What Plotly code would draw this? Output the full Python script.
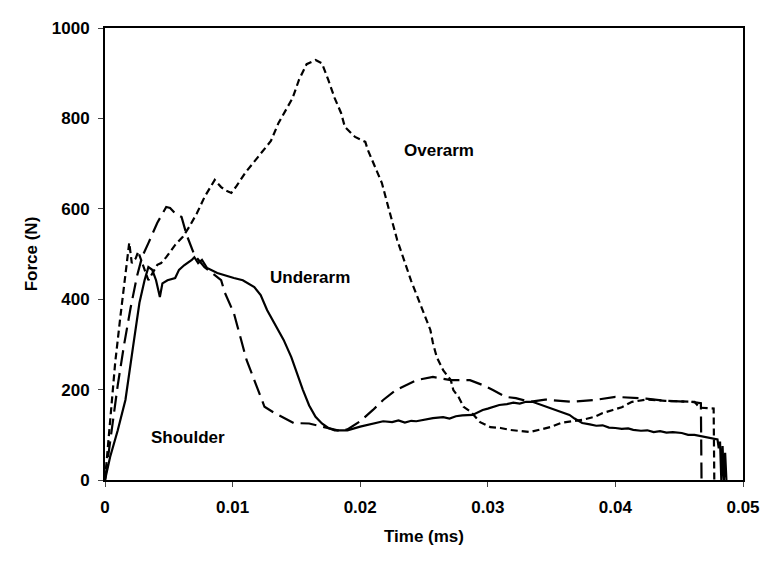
import plotly.graph_objects as go

# ---- data (time in ms, force in N) ----
overarm_t = [0, 0.0004, 0.0008, 0.0012, 0.0016, 0.0019, 0.0021, 0.0024, 0.0026, 0.0031, 0.0034,
             0.0041, 0.0044, 0.0048, 0.0055, 0.0061, 0.0066, 0.0072, 0.0078, 0.0086, 0.0091,
             0.0095, 0.0099, 0.0103, 0.011, 0.012, 0.013, 0.0136, 0.0147, 0.0152, 0.0158,
             0.0165, 0.017, 0.0175, 0.018, 0.0185, 0.0188, 0.0196, 0.0204, 0.0206, 0.0212,
             0.0217, 0.0222, 0.0229, 0.024, 0.0255, 0.0257, 0.026, 0.0265, 0.0271, 0.0273,
             0.0277, 0.0281, 0.0287, 0.0294, 0.0302, 0.031, 0.0317, 0.0333, 0.0341, 0.0349,
             0.0358, 0.0374, 0.0384, 0.039, 0.0398, 0.0405, 0.0413, 0.0425, 0.0439, 0.0452,
             0.0462, 0.0466, 0.0477, 0.04775]
overarm_f = [0, 130, 260, 360, 450, 525, 480, 490, 505, 465, 442,
             476, 480, 493, 520, 538, 560, 590, 626, 664, 648,
             640, 635, 650, 680, 715, 750, 790, 845, 885, 920,
             929, 922, 885, 845, 812, 781, 759, 748, 730, 692,
             657, 604, 531, 440, 332, 303, 272, 243, 221, 199,
             184, 162, 150, 128, 117, 115, 111, 106, 111, 117,
             127, 133, 140, 148, 155, 161, 173, 178, 175, 173,
             173, 160, 158, 0]

underarm_t = [0, 0.0004, 0.001, 0.0016, 0.0022, 0.0027, 0.0031, 0.0034, 0.0037, 0.004, 0.0043,
              0.0045, 0.0049, 0.0055, 0.0058, 0.0062, 0.0068, 0.007, 0.0073, 0.0076, 0.008,
              0.0088, 0.0101, 0.0108, 0.0117, 0.0122, 0.0127, 0.0134, 0.014, 0.0146, 0.015,
              0.0155, 0.016, 0.0165, 0.017, 0.0175, 0.018, 0.019, 0.020, 0.021, 0.0218,
              0.0225, 0.023, 0.0235, 0.024, 0.0244, 0.025, 0.0257, 0.0265, 0.027, 0.0275,
              0.028, 0.0288, 0.0296, 0.030, 0.0305, 0.0309, 0.0315, 0.032, 0.0325, 0.033,
              0.0335, 0.034, 0.0349, 0.0355, 0.036, 0.0364, 0.0368, 0.0374, 0.038, 0.0385,
              0.039, 0.0395, 0.040, 0.0405, 0.041, 0.0414, 0.042, 0.0425, 0.043, 0.0435,
              0.044, 0.0445, 0.0452, 0.0457, 0.0462, 0.0468, 0.0475, 0.048, 0.0481, 0.0482,
              0.0483, 0.0484, 0.0485, 0.0486, 0.0487]
underarm_f = [0, 51, 110, 177, 295, 392, 442, 471, 465, 442, 405,
              435, 442, 447, 465, 475, 487, 493, 480, 487, 469,
              458, 447, 442, 427, 409, 376, 339, 310, 272, 240,
              200, 165, 140, 125, 115, 110, 110, 118, 125, 130,
              128, 132, 127, 131, 130, 134, 137, 139, 136, 141,
              143, 144, 155, 158, 163, 166, 168, 171, 169, 173,
              173, 168, 159, 152, 148, 144, 136, 126, 123, 120,
              121, 116, 115, 113, 114, 111, 109, 110, 106, 108,
              105, 106, 104, 100, 100, 97, 93, 90, 70, 85,
              0, 75, 0, 60, 0]

shoulder_t = [0, 0.0005, 0.001, 0.0015, 0.002, 0.0025, 0.0029, 0.0034, 0.0041, 0.0048, 0.0051,
              0.0055, 0.006, 0.0064, 0.0068, 0.007, 0.0078, 0.0091, 0.0094, 0.0101, 0.0104,
              0.0111, 0.0117, 0.0125, 0.0133, 0.0148, 0.016, 0.017, 0.018, 0.0185, 0.019,
              0.020, 0.021, 0.0218, 0.0228, 0.0244, 0.0257, 0.0271, 0.0286, 0.0296, 0.0304,
              0.0314, 0.0322, 0.0333, 0.0345, 0.0365, 0.0384, 0.040, 0.0424, 0.044, 0.046,
              0.0467, 0.04675]
shoulder_f = [0, 110, 210, 300, 380, 450, 493, 524, 569, 604, 602,
              590, 582, 542, 513, 498, 471, 442, 414, 369, 338,
              265, 221, 162, 148, 126, 125, 118, 110, 108, 112,
              130, 155, 177, 199, 221, 228, 221, 221, 210, 199,
              184, 181, 173, 178, 173, 177, 184, 180, 175, 173,
              170, 0]

x_ticks = [0, 0.01, 0.02, 0.03, 0.04, 0.05]
x_tick_labels = ["0", "0.01", "0.02", "0.03", "0.04", "0.05"]
y_ticks = [0, 200, 400, 600, 800, 1000]

labels = ["Overarm", "Underarm", "Shoulder"]
label_x = [0.0262, 0.0161, 0.0065]
label_y = [730, 449, 94]

FONT = "Liberation Sans, Arial, sans-serif"

fig = go.Figure()
fig.add_trace(go.Scatter(x=overarm_t, y=overarm_f, mode="lines", name="Overarm",
                         line=dict(color="black", width=2.2, dash="7px,4px")))
fig.add_trace(go.Scatter(x=underarm_t, y=underarm_f, mode="lines", name="Underarm",
                         line=dict(color="black", width=2.2)))
fig.add_trace(go.Scatter(x=shoulder_t, y=shoulder_f, mode="lines", name="Shoulder",
                         line=dict(color="black", width=2.2, dash="16px,7px")))

for txt, lx, ly in zip(labels, label_x, label_y):
    fig.add_annotation(x=lx, y=ly, xref="x", yref="y", text=txt, showarrow=False,
                       font=dict(family=FONT, size=17, color="black", weight="bold"))

axis_common = dict(showline=True, linecolor="black", linewidth=2, mirror=True,
                   ticks="outside", ticklen=5, tickwidth=1, tickcolor="#444",
                   showgrid=False, zeroline=False,
                   tickfont=dict(family=FONT, size=17, color="black", weight="bold"))

fig.update_layout(
    width=772, height=568, autosize=False,
    margin=dict(l=105, r=25, t=28, b=88),
    paper_bgcolor="white", plot_bgcolor="white",
    showlegend=False,
    xaxis=dict(range=[0, 0.05], tickvals=x_ticks, ticktext=x_tick_labels,
               ticklabelstandoff=6,
               title=dict(text="Time (ms)", standoff=14,
                          font=dict(family=FONT, size=17, color="black", weight="bold")),
               **axis_common),
    yaxis=dict(range=[0, 1000], tickvals=y_ticks,
               ticklabelstandoff=5,
               title=dict(text="Force (N)", standoff=10,
                          font=dict(family=FONT, size=17, color="black", weight="bold")),
               **axis_common),
)

fig.write_html("out.html")
